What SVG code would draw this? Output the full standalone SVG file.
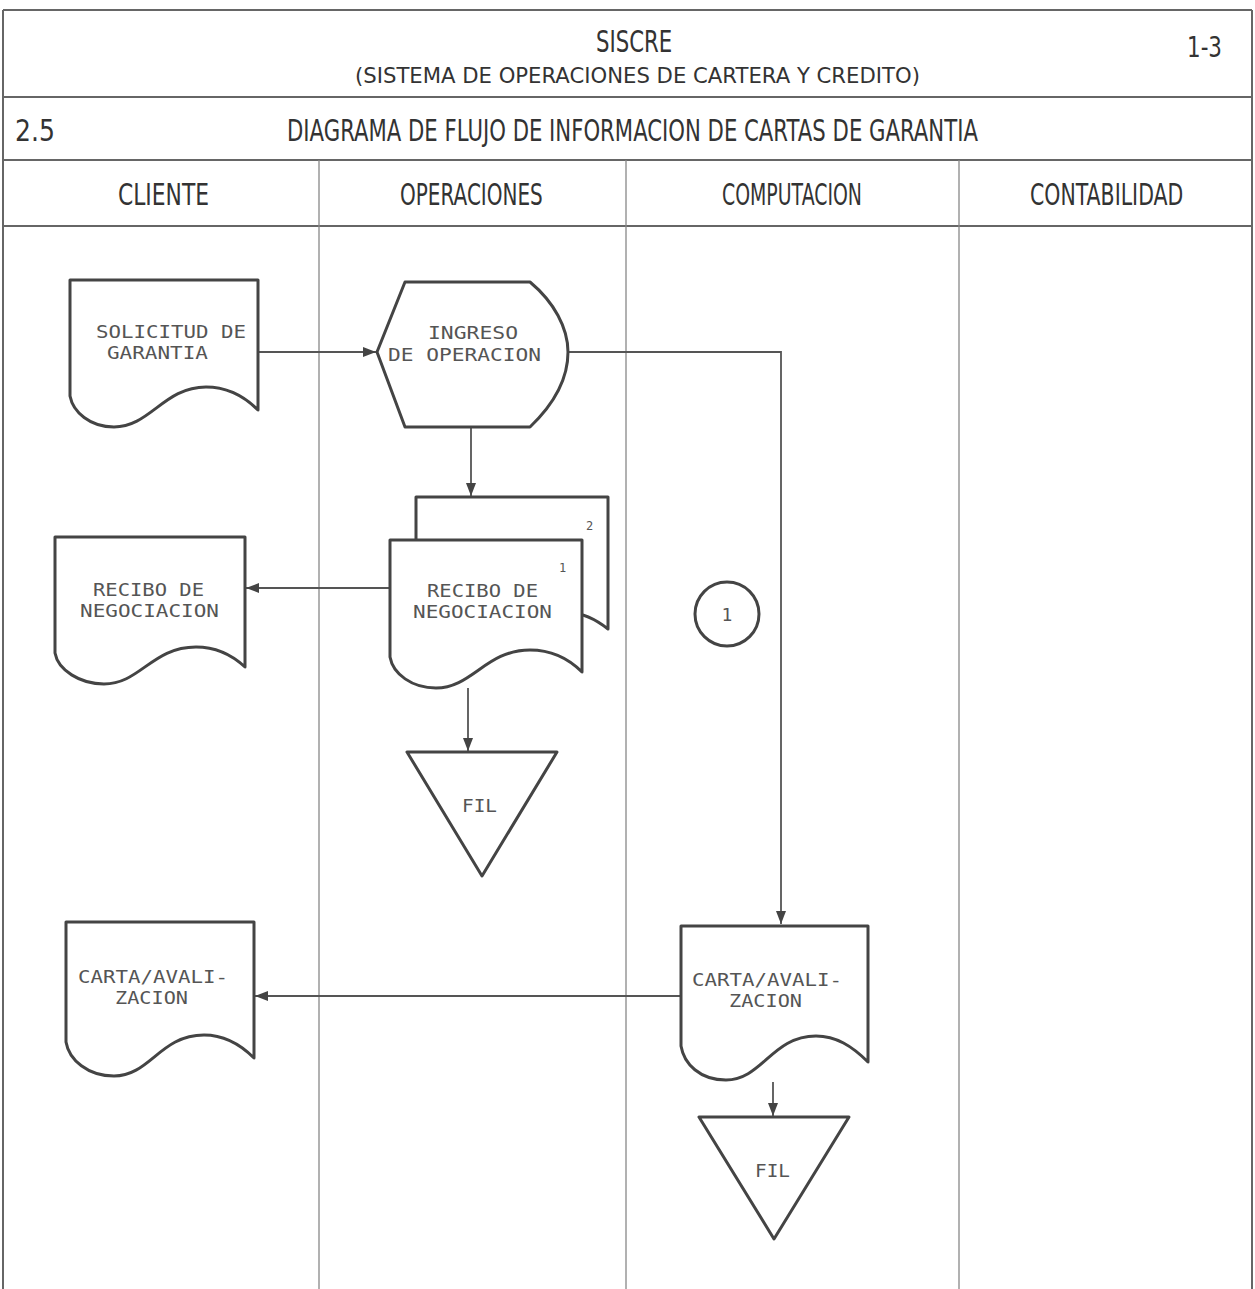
<svg xmlns="http://www.w3.org/2000/svg" width="1255" height="1289" viewBox="0 0 1255 1289">
<defs>
<style>
.frame{fill:none;stroke:#666;stroke-width:2}
.lane{fill:none;stroke:#888;stroke-width:1.3}
.shape{fill:#fff;stroke:#444;stroke-width:3;stroke-linejoin:round}
.conn{fill:none;stroke:#555;stroke-width:1.8}
.hd{font-family:"DejaVu Sans","Liberation Sans",sans-serif;fill:#333}
.nt{font-family:"DejaVu Sans Mono","Liberation Mono",monospace;font-size:18px;fill:#555}
.sm{font-family:"DejaVu Sans Mono","Liberation Mono",monospace;font-size:12px;fill:#555}
</style>
<marker id="ah" viewBox="0 0 13 10" refX="13" refY="5" markerWidth="13" markerHeight="10" markerUnits="userSpaceOnUse" orient="auto">
<path d="M0,0 L13,5 L0,10 Z" fill="#444"/>
</marker>
</defs>
<rect width="1255" height="1289" fill="#fff"/>
<g id="frame">
<path class="frame" d="M3,10 H1252 M3,10 V1289 M1252,10 V1289 M3,97 H1252 M3,160 H1252 M3,226 H1252"/>
<path class="lane" d="M319,160 V1289 M626,160 V1289 M959,160 V1289"/>
<text class="hd" transform="translate(596,52) scale(0.7,1)" font-size="30" textLength="109" lengthAdjust="spacingAndGlyphs">SISCRE</text>
<text class="hd" transform="translate(355,83) scale(0.7,1)" font-size="21" textLength="807" lengthAdjust="spacingAndGlyphs">(SISTEMA DE OPERACIONES DE CARTERA Y CREDITO)</text>
<text class="hd" transform="translate(1187,57) scale(0.7,1)" font-size="28" textLength="50" lengthAdjust="spacingAndGlyphs">1-3</text>
<text class="hd" transform="translate(15,141) scale(0.7,1)" font-size="30" textLength="57" lengthAdjust="spacingAndGlyphs">2.5</text>
<text class="hd" transform="translate(287,141) scale(0.7,1)" font-size="30" textLength="987" lengthAdjust="spacingAndGlyphs">DIAGRAMA DE FLUJO DE INFORMACION DE CARTAS DE GARANTIA</text>
<text class="hd" transform="translate(118,205) scale(0.7,1)" font-size="30" textLength="130" lengthAdjust="spacingAndGlyphs">CLIENTE</text>
<text class="hd" transform="translate(400,205) scale(0.7,1)" font-size="30" textLength="204" lengthAdjust="spacingAndGlyphs">OPERACIONES</text>
<text class="hd" transform="translate(722,205) scale(0.7,1)" font-size="30" textLength="200" lengthAdjust="spacingAndGlyphs">COMPUTACION</text>
<text class="hd" transform="translate(1030,205) scale(0.7,1)" font-size="30" textLength="219" lengthAdjust="spacingAndGlyphs">CONTABILIDAD</text>
</g>
<g id="connectors">
<path class="conn" d="M258,352 H376" marker-end="url(#ah)"/>
<path class="conn" d="M568,352 H781 V924" marker-end="url(#ah)"/>
<path class="conn" d="M471,427 V496" marker-end="url(#ah)"/>
<path class="conn" d="M390,588 H246" marker-end="url(#ah)"/>
<path class="conn" d="M468,688 V751" marker-end="url(#ah)"/>
<path class="conn" d="M681,996 H255" marker-end="url(#ah)"/>
<path class="conn" d="M773,1082 V1116" marker-end="url(#ah)"/>
</g>
<g id="solicitud">
<path class="shape" d="M70,280 H258 V410 C244,396 228,387 206,387 C164,387 150,427 114,427 C90,427 73,412 70,396 Z"/>
<text class="nt" x="96" y="338" textLength="150" lengthAdjust="spacingAndGlyphs">SOLICITUD DE</text>
<text class="nt" x="107" y="359" textLength="101" lengthAdjust="spacingAndGlyphs">GARANTIA</text>
</g>
<g id="ingreso">
<path class="shape" d="M405,282 H530 C554,302 568,328 568,352 C568,378 554,404 530,427 H405 L377,352 Z"/>
<text class="nt" x="428" y="339" textLength="90" lengthAdjust="spacingAndGlyphs">INGRESO</text>
<text class="nt" x="388" y="361" textLength="153" lengthAdjust="spacingAndGlyphs">DE OPERACION</text>
</g>
<g id="recibo-copia2">
<path class="shape" d="M416,497 H608 V629 C594,618 583,613 570,613 L416,613 Z"/>
<text class="sm" x="586" y="530">2</text>
</g>
<g id="recibo-operaciones">
<path class="shape" d="M390,540 H582 V672 C568,658 552,650 530,650 C486,650 472,688 436,688 C412,688 393,674 390,657 Z"/>
<text class="sm" x="559" y="572">1</text>
<text class="nt" x="427" y="597" textLength="111" lengthAdjust="spacingAndGlyphs">RECIBO DE</text>
<text class="nt" x="413" y="618" textLength="139" lengthAdjust="spacingAndGlyphs">NEGOCIACION</text>
</g>
<g id="recibo-cliente">
<path class="shape" d="M55,537 H245 V667 C231,654 216,647 196,647 C152,647 140,684 104,684 C80,684 58,670 55,653 Z"/>
<text class="nt" x="93" y="596" textLength="111" lengthAdjust="spacingAndGlyphs">RECIBO DE</text>
<text class="nt" x="80" y="617" textLength="139" lengthAdjust="spacingAndGlyphs">NEGOCIACION</text>
</g>
<g id="fil-operaciones">
<path class="shape" d="M407,752 H557 L482,876 Z"/>
<text class="nt" x="462" y="812" textLength="35" lengthAdjust="spacingAndGlyphs">FIL</text>
</g>
<g id="conector-1">
<circle class="shape" cx="727" cy="614" r="32" stroke-width="2.5"/>
<text class="nt" x="727" y="621" text-anchor="middle" font-size="16">1</text>
</g>
<g id="carta-computacion">
<path class="shape" d="M681,926 H868 V1062 C852,1046 836,1036 816,1036 C772,1036 762,1080 726,1080 C700,1080 684,1064 681,1046 Z"/>
<text class="nt" x="692" y="986" textLength="150" lengthAdjust="spacingAndGlyphs">CARTA/AVALI-</text>
<text class="nt" x="729" y="1007" textLength="73" lengthAdjust="spacingAndGlyphs">ZACION</text>
</g>
<g id="carta-cliente">
<path class="shape" d="M66,922 H254 V1058 C240,1044 224,1035 204,1035 C160,1035 150,1076 114,1076 C88,1076 69,1060 66,1042 Z"/>
<text class="nt" x="78" y="983" textLength="150" lengthAdjust="spacingAndGlyphs">CARTA/AVALI-</text>
<text class="nt" x="115" y="1004" textLength="73" lengthAdjust="spacingAndGlyphs">ZACION</text>
</g>
<g id="fil-computacion">
<path class="shape" d="M699,1117 H849 L774,1239 Z"/>
<text class="nt" x="755" y="1177" textLength="35" lengthAdjust="spacingAndGlyphs">FIL</text>
</g>
</svg>
